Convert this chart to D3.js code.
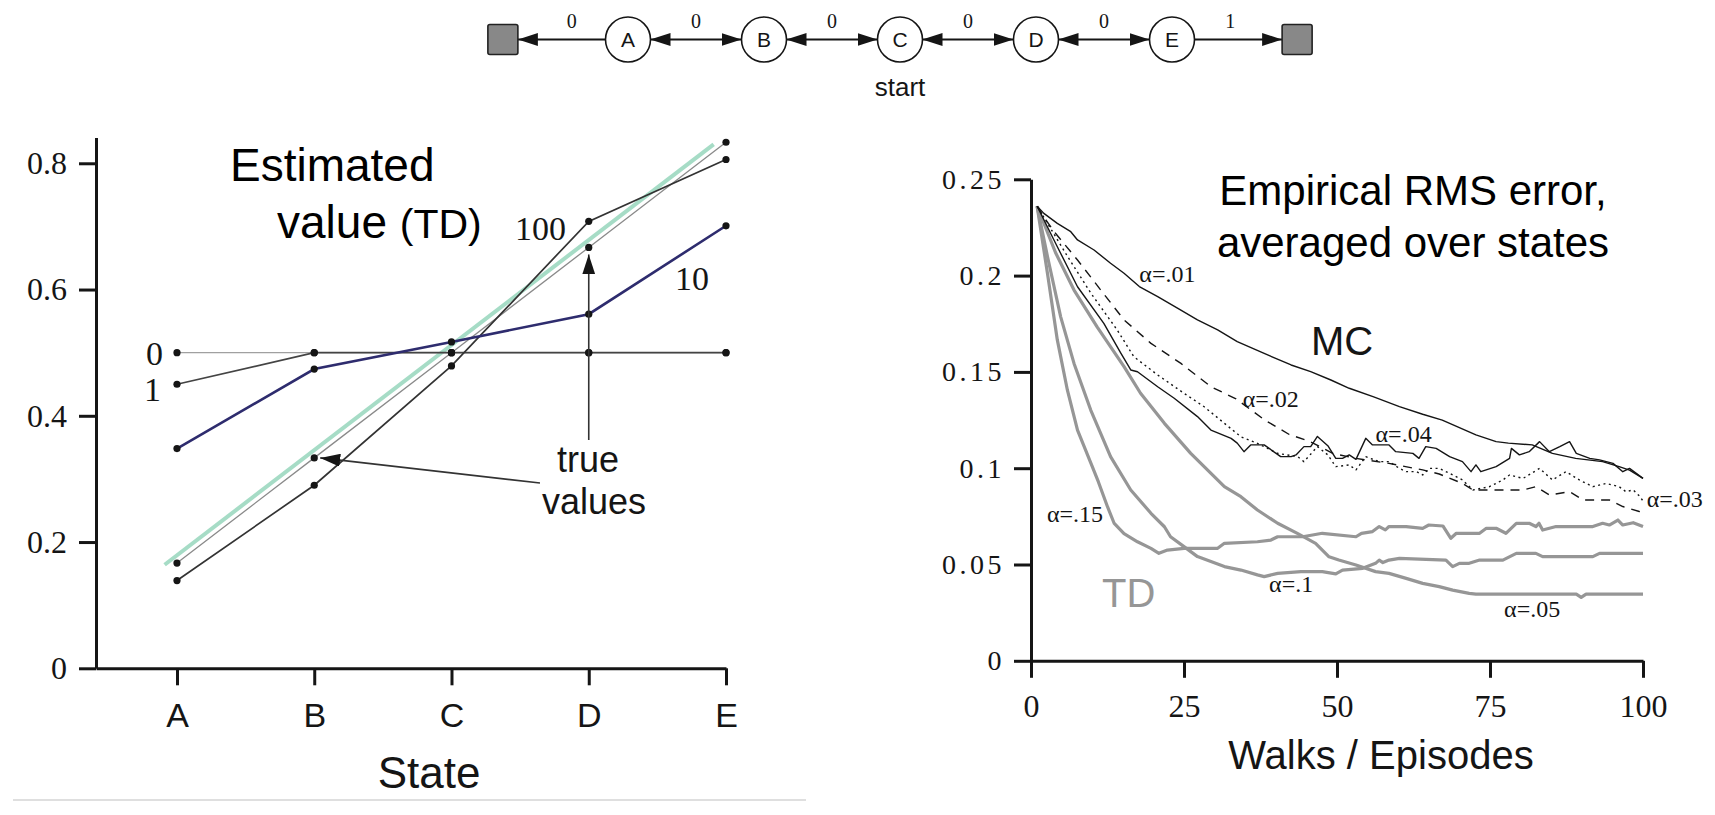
<!DOCTYPE html>
<html>
<head>
<meta charset="utf-8">
<script src="https://cdn.jsdelivr.net/npm/d3@7"></script>
<style>
  body { margin: 0; background: #fff; }
  svg { display: block; }
</style>
</head>
<body>
<svg id="fig" width="1715" height="815"></svg>
<script>
// random walk states and the reward on each edge
var walkStates = ["A", "B", "C", "D", "E"];
var edgeRewards = ["0", "0", "0", "0", "0", "1"];

// left panel: estimated value of each state after n episodes
var stateIdx = [0, 1, 2, 3, 4];
var est0 = [0.5, 0.5, 0.5, 0.5, 0.5];
var est1 = [0.45, 0.5, 0.5, 0.5, 0.5];
var est10 = [0.348, 0.474, 0.517, 0.561, 0.701];
var est100 = [0.139, 0.29, 0.479, 0.708, 0.806];
var trueVals = [1 / 6, 2 / 6, 3 / 6, 4 / 6, 5 / 6];
var greenFit = [[-0.09, 0.164], [3.91, 0.830]];
var valueTicks = [0, 0.2, 0.4, 0.6, 0.8];

// right panel: RMS error vs episodes, [episode, error]
var mc01 = [[1,.236],[2.1,.2323],[4.3,.2271],[6.5,.2228],[7.6,.2185],[10.3,.2133],[13,.2064],[15.2,.2012],[17.7,.1943],[20.7,.1891],[24,.183],[27.2,.177],[30.5,.1718],[33.7,.1657],[38.1,.1596],[42.5,.1536],[45.7,.1501],[49,.1458],[52,.1415],[56,.137],[60.2,.132],[64,.128],[67.2,.125],[72.7,.1173],[76,.1138],[78,.113],[81.9,.1121],[85.2,.1077],[89,.1051],[93.4,.1034],[96.1,.1008],[97.8,.099],[100,.0947]];
var mc02 = [[1,.236],[2.4,.229],[4,.222],[7.6,.2081],[11.4,.1925],[15.2,.177],[19.6,.1648],[24.5,.1544],[29.4,.1423],[33.5,.136],[38.2,.125],[42.2,.1175],[45.5,.114],[49.3,.1077],[53.1,.1051],[58.5,.1025],[64,.0991],[66.7,.097],[70.5,.0921],[72.2,.0887],[76,.0887],[80.4,.0887],[82.5,.0904],[84.7,.0861],[88,.0878],[90.2,.0835],[94.5,.0835],[96.7,.0801],[99.4,.0775],[100,.077]];
var mc03 = [[1,.236],[2.7,.2271],[6,.2098],[9.8,.1908],[14.1,.1717],[16.8,.1579],[20.7,.1484],[25,.1389],[28.3,.1319],[31.6,.1233],[34.3,.1163],[37,.1129],[40.3,.1077],[43.6,.106],[44.6,.1034],[46.8,.1112],[48.5,.1069],[49.8,.1008],[52,.1017],[53.1,.0991],[54.7,.106],[56.9,.1034],[58.5,.1034],[60.2,.0999],[61.3,.0982],[63,.0982],[64,.0965],[65.1,.0999],[66.7,.0999],[68.4,.0973],[70.5,.0939],[72.2,.0887],[74.9,.0904],[77.1,.0939],[78.2,.0965],[80.4,.0947],[83.1,.0999],[85.2,.0939],[87.4,.0982],[89.6,.0939],[91.8,.0904],[94,.0921],[96.1,.0904],[97.2,.0878],[98.4,.0887],[99.4,.0856],[100,.083]];
var mc04 = [[1,.236],[4.3,.215],[7.6,.1942],[11.9,.1752],[14.7,.1596],[16.3,.151],[17.4,.1501],[20.7,.1423],[23.4,.1363],[27.2,.1268],[29.4,.1198],[32.7,.1155],[33.7,.113],[34.8,.1086],[35.9,.1121],[38.1,.1121],[40.8,.106],[42.5,.106],[43.3,.1069],[44.6,.1112],[45.7,.1112],[46.8,.1165],[48.5,.1117],[49.8,.1051],[50.9,.1051],[52,.1069],[53.1,.1046],[54.7,.1155],[55.8,.1121],[58.5,.1121],[59.6,.1086],[62.4,.1077],[63.4,.1051],[64.5,.1112],[66.2,.1103],[68.4,.106],[70.5,.1034],[71.9,.0982],[72.7,.1017],[73.5,.0982],[76,.1008],[78.2,.1051],[78.5,.1103],[79.8,.1069],[81.4,.1086],[83.1,.1138],[84.7,.1086],[86.4,.1112],[88,.1138],[89.1,.1077],[91.3,.1051],[92.9,.1043],[95.1,.1025],[96.7,.0982],[97.8,.0999],[98.9,.0973],[100,.0947]];
var td15 = [[1,.236],[2.7,.201],[4.3,.1666],[5.95,.1405],[7.6,.1198],[9.8,.1025],[11,.093],[12.5,.08],[13.6,.0713],[15.2,.066],[17.4,.0618],[19.6,.0584],[20.9,.0558],[22.3,.0575],[25,.0584],[30.5,.0584],[31.6,.061],[37,.0618],[39.2,.0627],[40.3,.0644],[44.4,.0644],[47.6,.0662],[53.1,.0644],[54,.0662],[55.8,.0671],[56.9,.0697],[57.9,.068],[58.5,.0697],[61.3,.0697],[64,.0688],[65,.0705],[67.3,.07],[68.6,.0636],[69.5,.0662],[73.3,.0662],[74.4,.0688],[76,.0688],[77.6,.0662],[79.3,.0714],[81.4,.0714],[82.5,.0697],[83,.0714],[83.6,.0679],[85.8,.0697],[91.8,.0697],[93.4,.0714],[94.5,.0705],[95.9,.0731],[96.7,.0705],[98.4,.0717],[100,.0697]];
var td10 = [[1,.236],[2.7,.2098],[4.85,.1786],[7.03,.1544],[9.76,.1302],[13,.106],[16.3,.0887],[19.6,.0766],[21.8,.0696],[22.8,.0644],[25,.0593],[27.2,.0541],[29.4,.0515],[31.6,.0489],[34.3,.0471],[37,.0446],[38.1,.0437],[40.3,.0454],[44.1,.0463],[47.6,.0463],[49.8,.0451],[50.9,.0471],[54.2,.048],[56.3,.0506],[56.9,.0523],[57.5,.051],[58.5,.0523],[60.2,.0532],[67.8,.0523],[68.9,.0489],[70,.0506],[71.6,.0506],[73.3,.0523],[77.1,.0523],[79.3,.0558],[82.5,.0558],[83.6,.0541],[91.8,.0541],[92.9,.0558],[100,.0558]];
var td05 = [[1,.236],[4,.212],[7.03,.1925],[10.8,.1734],[15.2,.1527],[17.9,.1389],[21.8,.1233],[26.1,.1077],[31.6,.0904],[34.3,.0852],[37,.0783],[40.3,.0714],[43.6,.066],[46.5,.061],[48.7,.054],[50.3,.0523],[53.1,.0497],[56.3,.0463],[58.5,.0454],[61.3,.0428],[64,.0402],[66.7,.0385],[68.9,.0367],[71.6,.035],[72.7,.0346],[89.1,.0346],[89.9,.0329],[90.7,.0346],[100,.0346]];
var episodeTicks = [0, 25, 50, 75, 100];
var errorTicks = [0, 0.05, 0.1, 0.15, 0.2, 0.25];

var serif = "'Liberation Serif','Times New Roman',serif";
var sans = "'Liberation Sans',Arial,Helvetica,sans-serif";
var ink = "#151515";
var tdGray = "#969696";

var svg = d3.select("#fig");
var defs = svg.append("defs");
defs.append("marker")
  .attr("id", "arrow")
  .attr("viewBox", "0 0 10 10")
  .attr("refX", 10).attr("refY", 5)
  .attr("markerUnits", "userSpaceOnUse")
  .attr("markerWidth", 20).attr("markerHeight", 13)
  .attr("preserveAspectRatio", "none")
  .attr("orient", "auto-start-reverse")
  .append("path").attr("d", "M0,0L10,5L0,10z").attr("fill", ink);

function styleAxis(g, font, size) {
  g.select(".domain").attr("stroke", ink).attr("stroke-width", 3);
  g.selectAll(".tick line").attr("stroke", ink).attr("stroke-width", 3);
  g.selectAll(".tick text").attr("fill", ink).attr("font-family", font).attr("font-size", size);
}

// ---------- random walk diagram ----------
var xN = d3.scaleLinear().domain([0, 4]).range([628, 1172]);
var nodeY = 39.5, nodeR = 22.5;
var walk = svg.append("g");

// edges: terminal squares sit at -0.92 and 4.92
var edgeEnds = [[-0.92, 0], [0, 1], [1, 2], [2, 3], [3, 4], [4, 4.92]];
edgeEnds.forEach(function(e, i) {
  var x1 = e[0] < 0 ? xN(e[0]) + 15 : xN(e[0]) + nodeR;
  var x2 = e[1] > 4 ? xN(e[1]) - 15 : xN(e[1]) - nodeR;
  var ln = walk.append("line")
    .attr("x1", x1).attr("y1", nodeY).attr("x2", x2).attr("y2", nodeY)
    .attr("stroke", ink).attr("stroke-width", 1.8);
  if (i === 0) ln.attr("marker-start", "url(#arrow)");
  else if (i === 5) ln.attr("marker-end", "url(#arrow)");
  else ln.attr("marker-start", "url(#arrow)").attr("marker-end", "url(#arrow)");
  var lx = (x1 + x2) / 2 + (i === 0 ? 10 : i === 5 ? -8 : 0);
  walk.append("text").attr("x", lx).attr("y", 28)
    .attr("text-anchor", "middle").attr("font-family", serif).attr("font-size", 20)
    .attr("fill", ink).text(edgeRewards[i]);
});

walk.selectAll("rect.term").data([-0.92, 4.92]).enter().append("rect")
  .attr("x", d => xN(d) - 15).attr("y", nodeY - 15)
  .attr("width", 30).attr("height", 30).attr("rx", 2)
  .attr("fill", "#888").attr("stroke", "#222").attr("stroke-width", 1.6);

walk.selectAll("circle").data(walkStates).enter().append("circle")
  .attr("cx", (d, i) => xN(i)).attr("cy", nodeY).attr("r", nodeR)
  .attr("fill", "#fff").attr("stroke", ink).attr("stroke-width", 1.6);
walk.selectAll("text.node").data(walkStates).enter().append("text")
  .attr("x", (d, i) => xN(i)).attr("y", nodeY + 7.5)
  .attr("text-anchor", "middle").attr("font-family", sans).attr("font-size", 21)
  .attr("fill", ink).text(d => d);
walk.append("text").attr("x", xN(2)).attr("y", 96)
  .attr("text-anchor", "middle").attr("font-family", sans).attr("font-size", 26)
  .attr("fill", ink).text("start");

// ---------- left panel ----------
var xS = d3.scaleLinear().domain([-0.59, 4]).range([96, 726]);
var yV = d3.scaleLinear().domain([0, 0.841]).range([668.3, 137.4]);
var gL = svg.append("g");

var axL = gL.append("g").attr("transform", "translate(96,0)")
  .call(d3.axisLeft(yV).tickValues(valueTicks).tickSize(17).tickSizeOuter(0).tickPadding(12)
    .tickFormat(d => d === 0 ? "0" : d3.format(".1f")(d)));
styleAxis(axL, serif, 32);
var axB = gL.append("g").attr("transform", "translate(0,668.3)")
  .call(d3.axisBottom(xS).tickValues(stateIdx).tickSize(17).tickSizeOuter(0).tickPadding(18)
    .tickFormat(i => walkStates[i]));
styleAxis(axB, sans, 34);

gL.append("path").datum(greenFit)
  .attr("d", d3.line().x(d => xS(d[0])).y(d => yV(d[1])))
  .attr("fill", "none").attr("stroke", "#a6dcc6").attr("stroke-width", 4);

var lineS = d3.line().x((d, i) => xS(i)).y(d => yV(d));
var leftSeries = [
  { v: trueVals, c: "#8a8a8a", w: 1.3 },
  { v: est0, c: "#a0a0a0", w: 1.3 },
  { v: est1, c: "#444", w: 1.7 },
  { v: est100, c: "#333", w: 1.7 },
  { v: est10, c: "#2e2c6e", w: 2.6 }
];
leftSeries.forEach(function(s) {
  gL.append("path").datum(s.v).attr("d", lineS)
    .attr("fill", "none").attr("stroke", s.c).attr("stroke-width", s.w);
});
leftSeries.forEach(function(s) {
  gL.selectAll(null).data(s.v).enter().append("circle")
    .attr("cx", (d, i) => xS(i)).attr("cy", d => yV(d)).attr("r", 3.6).attr("fill", ink);
});

// "true values" arrows
gL.append("line").attr("x1", 540).attr("y1", 483)
  .attr("x2", xS(1) + 6).attr("y2", yV(trueVals[1]))
  .attr("stroke", "#333").attr("stroke-width", 1.6).attr("marker-end", "url(#arrow)");
gL.append("line").attr("x1", xS(3)).attr("y1", 440)
  .attr("x2", xS(3)).attr("y2", yV(trueVals[3]) + 7)
  .attr("stroke", "#333").attr("stroke-width", 1.6).attr("marker-end", "url(#arrow)");

gL.append("text").attr("x", 588).attr("y", 472).attr("text-anchor", "middle")
  .attr("font-family", sans).attr("font-size", 36).attr("fill", ink).text("true");
gL.append("text").attr("x", 594).attr("y", 514).attr("text-anchor", "middle")
  .attr("font-family", sans).attr("font-size", 36).attr("fill", ink).text("values");

// episode labels
gL.append("text").attr("x", 163).attr("y", 365).attr("text-anchor", "end")
  .attr("font-family", serif).attr("font-size", 34).attr("fill", ink).text("0");
gL.append("text").attr("x", 161).attr("y", 401).attr("text-anchor", "end")
  .attr("font-family", serif).attr("font-size", 34).attr("fill", ink).text("1");
gL.append("text").attr("x", 515).attr("y", 240)
  .attr("font-family", serif).attr("font-size", 34).attr("fill", ink).text("100");
gL.append("text").attr("x", 675).attr("y", 290)
  .attr("font-family", serif).attr("font-size", 34).attr("fill", ink).text("10");

gL.append("text").attr("x", 230).attr("y", 181)
  .attr("font-family", sans).attr("font-size", 46).attr("fill", "#000").text("Estimated");
var t2 = gL.append("text").attr("x", 277).attr("y", 238)
  .attr("font-family", sans).attr("font-size", 46).attr("fill", "#000");
t2.append("tspan").text("value ");
t2.append("tspan").attr("font-size", 41).text("(TD)");

gL.append("text").attr("x", 429).attr("y", 788).attr("text-anchor", "middle")
  .attr("font-family", sans).attr("font-size", 44).attr("fill", ink).text("State");

svg.append("line").attr("x1", 13).attr("x2", 806).attr("y1", 800).attr("y2", 800)
  .attr("stroke", "#d4d4d4").attr("stroke-width", 1.5);

// ---------- right panel ----------
var xE = d3.scaleLinear().domain([0, 100]).range([1031, 1643]);
var yE = d3.scaleLinear().domain([0, 0.25]).range([660.8, 179.3]);
var gR = svg.append("g");

var axR = gR.append("g").attr("transform", "translate(1031,0)")
  .call(d3.axisLeft(yE).tickValues(errorTicks).tickSize(17).tickSizeOuter(0).tickPadding(9)
    .tickFormat(d => d === 0 ? "0" : String(+d.toFixed(2))));
styleAxis(axR, serif, 28);
axR.selectAll(".tick text").attr("letter-spacing", "3.5px");
var axE = gR.append("g").attr("transform", "translate(0,660.8)")
  .call(d3.axisBottom(xE).tickValues(episodeTicks).tickSize(17).tickSizeOuter(0).tickPadding(16));
styleAxis(axE, serif, 32);

var lineE = d3.line().x(d => xE(d[0])).y(d => yE(d[1]));
var rightSeries = [
  { v: td15, c: tdGray, w: 3.2, dash: null },
  { v: td10, c: tdGray, w: 3.2, dash: null },
  { v: td05, c: tdGray, w: 3.2, dash: null },
  { v: mc02, c: ink, w: 1.4, dash: "9,7" },
  { v: mc03, c: ink, w: 1.4, dash: "2,3.5" },
  { v: mc04, c: ink, w: 1.4, dash: null },
  { v: mc01, c: ink, w: 1.4, dash: null }
];
rightSeries.forEach(function(s) {
  gR.append("path").datum(s.v).attr("d", lineE)
    .attr("fill", "none").attr("stroke", s.c).attr("stroke-width", s.w)
    .attr("stroke-linejoin", "round").attr("stroke-dasharray", s.dash);
});

// alpha labels placed in data coordinates [episode, error]
var alphaLabels = [
  ["α=.01", 17.7, 0.1968], ["α=.02", 34.6, 0.1320], ["α=.04", 56.3, 0.1138],
  ["α=.03", 100.6, 0.0800], ["α=.15", 2.6, 0.0722], ["α=.1", 38.9, 0.0359],
  ["α=.05", 77.3, 0.0229]
];
gR.selectAll("text.alpha").data(alphaLabels).enter().append("text")
  .attr("x", d => xE(d[1])).attr("y", d => yE(d[2]))
  .attr("font-family", serif).attr("font-size", 24).attr("fill", ink).text(d => d[0]);

gR.append("text").attr("x", 1311).attr("y", 355)
  .attr("font-family", sans).attr("font-size", 40).attr("fill", ink).text("MC");
gR.append("text").attr("x", 1102).attr("y", 607)
  .attr("font-family", sans).attr("font-size", 40).attr("fill", tdGray).text("TD");

gR.append("text").attr("x", 1413).attr("y", 205).attr("text-anchor", "middle")
  .attr("font-family", sans).attr("font-size", 42).attr("fill", "#000").text("Empirical RMS error,");
gR.append("text").attr("x", 1413).attr("y", 257).attr("text-anchor", "middle")
  .attr("font-family", sans).attr("font-size", 42).attr("fill", "#000").text("averaged over states");

gR.append("text").attr("x", 1381).attr("y", 769).attr("text-anchor", "middle")
  .attr("font-family", sans).attr("font-size", 40).attr("fill", ink).text("Walks / Episodes");
</script>
</body>
</html>
